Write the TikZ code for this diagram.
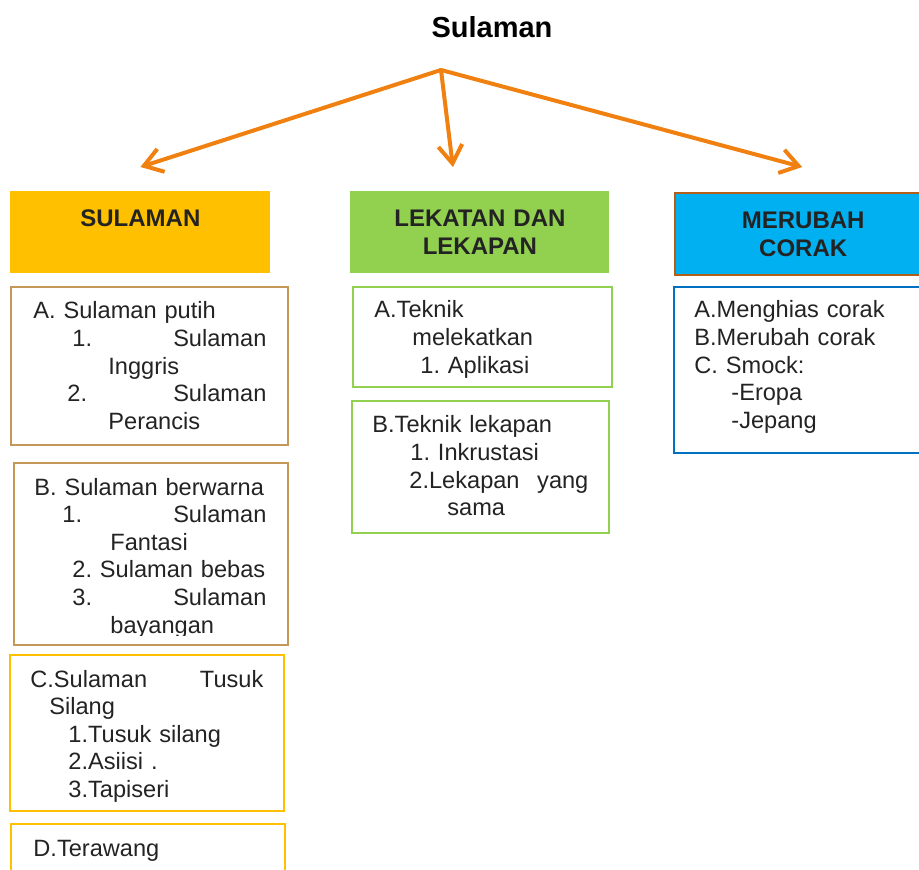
\documentclass[tikz,border=0pt]{standalone}
\usepackage{fontspec}
\setmainfont{Liberation Sans}
\usetikzlibrary{arrows.meta, positioning}
\frenchspacing

\definecolor{goldfill}{RGB}{255,192,0}
\definecolor{greenfill}{RGB}{146,208,80}
\definecolor{bluefill}{RGB}{0,176,240}
\definecolor{tanline}{RGB}{197,152,90}
\definecolor{rustline}{RGB}{180,95,25}
\definecolor{blueline}{RGB}{0,112,192}
\definecolor{arroworange}{RGB}{240,128,15}
\definecolor{textdark}{RGB}{35,35,35}

\begin{document}
\begin{tikzpicture}[
    x=0.5pt, y=-0.5pt,
    % Estilos
    header/.style={rectangle, anchor=north west, minimum height=41pt, inner sep=0pt, align=center, font=\bfseries\fontsize{12}{14}\selectfont, text=textdark},
    listbox/.style={rectangle, anchor=north west, line width=1.2pt, inner sep=0pt},
    listtext/.style={anchor=base west, inner sep=0pt, align=left, font=\fontsize{11.8}{13.8}\selectfont, text=textdark},
    branch/.style={-{Straight Barb[length=9pt, width=12pt]}, line width=2pt, draw=arroworange, line cap=round, line join=round}
]
\useasboundingbox (0,0) rectangle (919,870);
\clip (0,0) rectangle (919,870);

% Judul
\node[font=\bfseries\fontsize{14.5}{17}\selectfont, text=black] (title) at (492,27) {Sulaman};
\coordinate (hub) at (441,70);

% Kepala kolom
\node[header, fill=goldfill, minimum width=130pt, text width=130pt] (sulaman) at (10,191) {SULAMAN\\ \mbox{}};
\node[header, fill=greenfill, minimum width=129.5pt, text width=129.5pt] (lekatan) at (350,191) {LEKATAN DAN\\LEKAPAN};
\node[header, fill=bluefill, draw=rustline, line width=1.2pt, minimum width=128pt, text width=128pt] (merubah) at (674,192) {MERUBAH\\CORAK};

% Panah
\draw[branch] (hub) -- ([yshift=12pt]sulaman.north);
\draw[branch] (hub) -- ([xshift=-13.5pt, yshift=12pt]lekatan.north);
\draw[branch] (hub) -- ([xshift=-0.5pt, yshift=12.5pt]merubah.north);

% Kolom 1: Sulaman
\node[listbox, draw=tanline, minimum width=138.5pt, minimum height=79pt] (putih) at (10,286) {};
\node[listtext, text width=116.5pt] (putihtext) at (33,319) {\mbox{A. Sulaman putih}\\ \hspace*{19.5pt}1.\hfill Sulaman\\ \hspace*{37.5pt}Inggris\\ \hspace*{17pt}2.\hfill Sulaman\\ \hspace*{37.5pt}Perancis};

\node[listbox, draw=tanline, minimum width=137pt, minimum height=91pt] (berwarna) at (13,462) {};
\begin{scope}
  \clip (berwarna.north west) rectangle ([yshift=5.5pt]berwarna.south east);
  \node[listtext, text width=116pt] (berwarnatext) at (34,495) {\mbox{B. Sulaman berwarna}\\ \hspace*{14pt}1.\hfill Sulaman\\ \hspace*{38pt}Fantasi\\ \hspace*{19pt}\mbox{2. Sulaman bebas}\\ \hspace*{19pt}3.\hfill Sulaman\\ \hspace*{38pt}bayangan};
\end{scope}

\node[listbox, draw=goldfill, minimum width=137pt, minimum height=78pt] (silang) at (9,654) {};
\begin{scope}
  \clip (silang.north west) rectangle ([yshift=5.5pt]silang.south east);
  \node[listtext, text width=116.5pt] (silangtext) at (30,687) {C.Sulaman\hfill Tusuk\\ \hspace*{9.5pt}Silang\\ \hspace*{19pt}\mbox{1.Tusuk silang}\\ \hspace*{19pt}2.Asiisi .\\ \hspace*{19pt}3.Tapiseri};
\end{scope}

\node[listbox, draw=goldfill, minimum width=137pt, minimum height=50pt] (terawang) at (10,823) {};
\node[listtext] (terawangtext) at (33,856) {D.Terawang};

% Kolom 2: Lekatan dan lekapan
\node[listbox, draw=greenfill, minimum width=129.5pt, minimum height=50pt] (melekatkan) at (352,286) {};
\begin{scope}
  \clip (melekatkan.north west) rectangle ([yshift=5.5pt]melekatkan.south east);
  \node[listtext, text width=110pt] (melekatkantext) at (374,318) {A.Teknik\\ \hspace*{19pt}melekatkan\\ \hspace*{23pt}1. Aplikasi};
\end{scope}

\node[listbox, draw=greenfill, minimum width=128.5pt, minimum height=66pt] (lekapan) at (351,400) {};
\node[listtext, text width=108pt] (lekapantext) at (372,433) {\mbox{B.Teknik lekapan}\\ \hspace*{19pt}1. Inkrustasi\\ \hspace*{18.5pt}2.Lekapan\hfill yang\\ \hspace*{37.5pt}sama};

% Kolom 3: Merubah corak
\node[listbox, draw=blueline, minimum width=130pt, minimum height=83pt] (corak) at (673,286) {};
\node[listtext, text width=110pt] (coraktext) at (694,318) {\mbox{A.Menghias corak}\\\mbox{B.Merubah corak}\\C. Smock:\\ \hspace*{18.5pt}-Eropa\\ \hspace*{18.5pt}-Jepang};

\end{tikzpicture}
\end{document}
